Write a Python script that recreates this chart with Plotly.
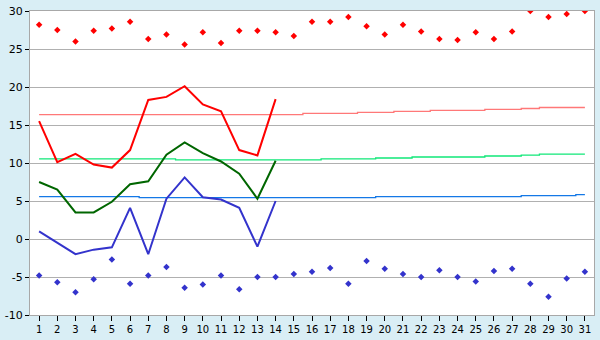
import plotly.graph_objects as go

days = list(range(1, 32))
line_days = list(range(1, 15))

# observed daily max / mean / min (lines, days 1-14)
obs_max = [15.5, 10.1, 11.2, 9.8, 9.4, 11.7, 18.3, 18.7, 20.1, 17.7, 16.8, 11.7, 11.0, 18.4]
obs_mean = [7.5, 6.5, 3.5, 3.5, 4.9, 7.2, 7.6, 11.1, 12.7, 11.3, 10.2, 8.6, 5.3, 10.3]
obs_min = [1.0, -0.5, -2.0, -1.4, -1.1, 4.1, -2.0, 5.3, 8.1, 5.5, 5.2, 4.1, -1.0, 5.0]

# record max / min (diamonds)
rec_max = [28.2, 27.5, 26.0, 27.4, 27.7, 28.6, 26.3, 26.9, 25.6, 27.2, 25.8, 27.4, 27.4, 27.2,
           26.7, 28.6, 28.6, 29.2, 28.0, 26.9, 28.2, 27.3, 26.3, 26.2, 27.2, 26.3, 27.3, 30.0,
           29.2, 29.6, 30.0]
rec_min = [-4.8, -5.7, -7.0, -5.3, -2.7, -5.9, -4.8, -3.7, -6.4, -6.0, -4.8, -6.6, -5.0, -5.0,
           -4.6, -4.3, -3.8, -5.9, -2.9, -3.9, -4.6, -5.0, -4.1, -5.0, -5.6, -4.2, -3.9, -5.9,
           -7.6, -5.2, -4.3]

# normals
norm_max = [16.37] * 15 + [16.54] * 3 + [16.67] * 2 + [16.79] * 2 + [16.92] * 3 + [17.05] * 2 + [17.17] + [17.30] * 3
norm_mean = [10.53] * 8 + [10.41] * 8 + [10.53] * 3 + [10.66] * 2 + [10.79] * 4 + [10.92] * 2 + [11.04] + [11.17] * 3
norm_min = [5.58] * 6 + [5.45] * 13 + [5.58] * 8 + [5.71] * 3 + [5.84]

y_ticks = [-10, -5, 0, 5, 10, 15, 20, 25, 30]
y_labels = ["-10", "-5", "0", "5", "10", "15", "20", "25", "30"]
x_labels = [str(d) for d in days]

fig = go.Figure()

fig.add_trace(go.Scatter(x=days, y=norm_max, mode="lines", line=dict(color="#ff7878", width=1.3, shape="hvh")))
fig.add_trace(go.Scatter(x=days, y=norm_mean, mode="lines", line=dict(color="#10e878", width=1.3, shape="hvh")))
fig.add_trace(go.Scatter(x=days, y=norm_min, mode="lines", line=dict(color="#1478e6", width=1.3, shape="hvh")))

fig.add_trace(go.Scatter(x=line_days, y=obs_max, mode="lines", line=dict(color="#ff0000", width=2)))
fig.add_trace(go.Scatter(x=line_days, y=obs_mean, mode="lines", line=dict(color="#006600", width=2)))
fig.add_trace(go.Scatter(x=line_days, y=obs_min, mode="lines", line=dict(color="#3333cc", width=2)))

fig.add_trace(go.Scatter(x=days, y=rec_max, mode="markers",
                         marker=dict(symbol="diamond", size=5, color="#ff0000")))
fig.add_trace(go.Scatter(x=days, y=rec_min, mode="markers",
                         marker=dict(symbol="diamond", size=5, color="#3333cc")))

fig.update_layout(
    width=600, height=340,
    margin=dict(l=26, r=5, t=5, b=20),
    paper_bgcolor="#d9eef5",
    plot_bgcolor="#ffffff",
    showlegend=False,
    font=dict(family="DejaVu Sans", color="#000000"),
)
fig.update_xaxes(
    range=[0.5, 31.5], tickvals=days, ticktext=x_labels,
    showgrid=False, zeroline=False,
    showline=True, linecolor="#a8a8a8", linewidth=1, mirror=True,
    ticks="outside", ticklen=5, tickcolor="#000000", tickwidth=1,
    tickfont=dict(size=10, family="DejaVu Sans"),
    ticklabeloverflow="allow",
)
fig.update_yaxes(
    range=[-10, 30], tickvals=y_ticks, ticktext=y_labels,
    showgrid=True, gridcolor="#b0b0b0", gridwidth=1, zeroline=False,
    showline=True, linecolor="#a8a8a8", linewidth=1, mirror=True,
    ticks="outside", ticklen=4, tickcolor="#000000", tickwidth=1,
    tickfont=dict(size=11, family="DejaVu Sans"),
    ticklabeloverflow="allow",
)

fig.write_html("out.html")
